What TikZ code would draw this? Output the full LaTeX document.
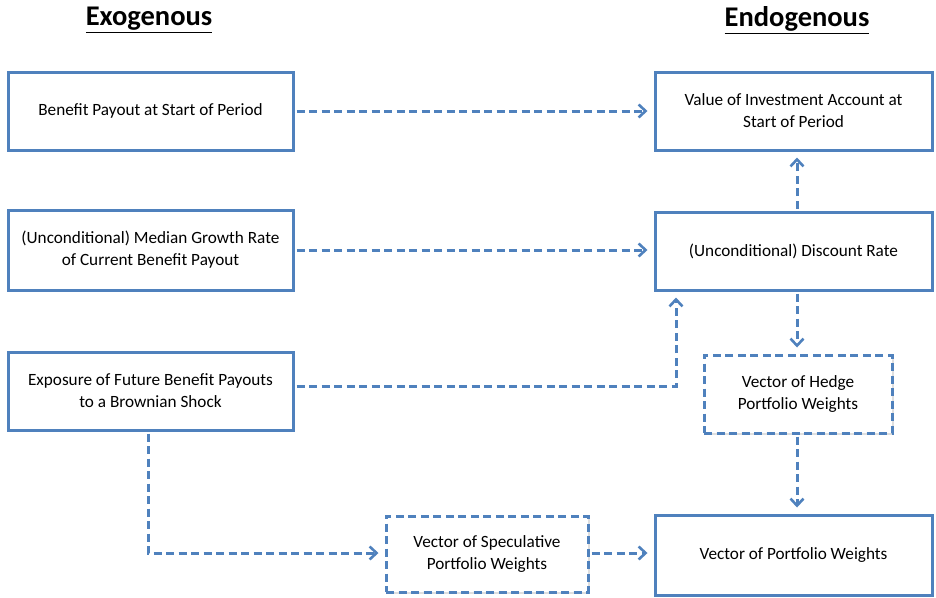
\documentclass[tikz,border=0pt]{standalone}
\usepackage{fontspec}
\setmainfont{Carlito}
\usetikzlibrary{arrows.meta,shadows}
\definecolor{boxblue}{RGB}{79,129,189}
\tikzset{
  solidbox/.style={draw=boxblue, line width=3pt, fill=white, align=center,
    font=\fontsize{17.2}{22}\selectfont, inner sep=0pt,
    drop shadow={opacity=0.25, shadow xshift=1.5pt, shadow yshift=-2pt}},
  dashbox/.style={solidbox, dash pattern=on 8pt off 4.5pt},
  conn/.style={draw=boxblue, line width=3pt, dash pattern=on 8pt off 4.5pt,
    -{Straight Barb[length=7pt,width=13pt,line width=2.6pt]}, shorten >=6pt, shorten <=2pt},
  header/.style={font=\fontsize{28.5}{32}\selectfont\bfseries}
}
\begin{document}
\begin{tikzpicture}[x=1pt,y=-1pt]
\useasboundingbox (0,0) rectangle (936,597);
\node[header] (exo) at (149,20) {\underline{Exogenous}};
\node[header] (endo) at (797,20) {\underline{Endogenous}};

\node[solidbox, minimum width=285pt, minimum height=78pt] (L1) at (150.5,111) {Benefit Payout at Start of Period};
\node[solidbox, minimum width=285pt, minimum height=80pt] (L2) at (150.5,250) {(Unconditional) Median Growth Rate\\of Current Benefit Payout};
\node[solidbox, minimum width=285pt, minimum height=78pt] (L3) at (150.5,391) {Exposure of Future Benefit Payouts\\to a Brownian Shock};

\node[solidbox, minimum width=277pt, minimum height=78pt] (R1) at (793.5,111) {Value of Investment Account at\\Start of Period};
\node[solidbox, minimum width=277pt, minimum height=78pt] (R2) at (793.5,251) {(Unconditional) Discount Rate};
\node[dashbox, minimum width=188pt, minimum height=78pt] (H) at (798,394) {Vector of Hedge\\Portfolio Weights};
\node[dashbox, minimum width=202pt, minimum height=76pt] (S) at (487,554) {Vector of Speculative\\Portfolio Weights};
\node[solidbox, minimum width=277pt, minimum height=80pt] (R4) at (793.5,555) {Vector of Portfolio Weights};

\draw[conn] (L1.east) -- (R1.west);
\draw[conn] (L2.east) -- (L2.east -| R2.west);
\coordinate (c1) at (676,386);
\draw[conn] (L3.east |- c1) -- (c1) -- (c1 |- R2.south);
\draw[conn] (R2.north -| 797,0) -- (R1.south -| 797,0);
\draw[conn] (R2.south -| 797,0) -- (H.north -| 797,0);
\draw[conn] (H.south -| 797,0) -- (R4.north -| 797,0);
\coordinate (c2) at (148,553);
\draw[conn] (L3.south -| c2) -- (c2) -- (S.west |- c2);
\draw[conn] (S.east |- c2) -- (R4.west |- c2);
\end{tikzpicture}
\end{document}
